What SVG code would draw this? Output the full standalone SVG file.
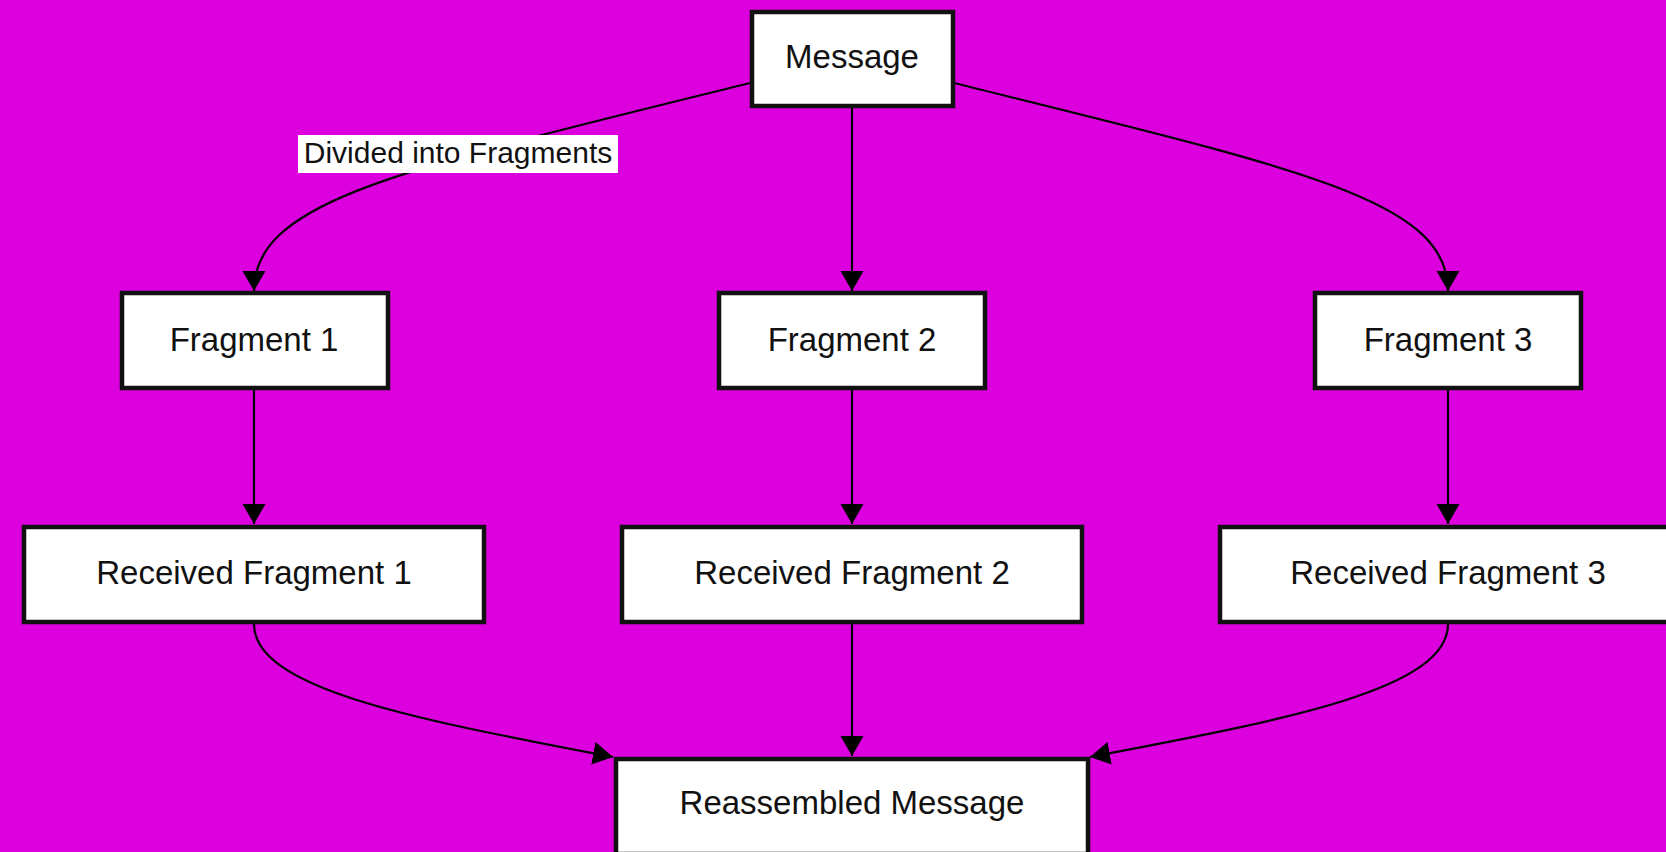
<svg xmlns="http://www.w3.org/2000/svg" width="1666" height="852" viewBox="0 0 1666 852">
  <style>
    .box { fill: #ffffff; stroke: #111111; stroke-width: 4.5; }
    .lbl { font-family: "Liberation Sans", Arial, sans-serif; font-size: 33px; fill: #111111; text-anchor: middle; }
    .edge { fill: none; stroke: #000000; stroke-width: 2.2; marker-end: url(#arrow); }
    .elbl-bg { fill: #ffffff; }
    .elbl { font-family: "Liberation Sans", Arial, sans-serif; font-size: 30px; fill: #111111; text-anchor: middle; }
  </style>
  <defs>
    <marker id="arrow" markerUnits="userSpaceOnUse" markerWidth="22" markerHeight="24" refX="20" refY="11.5" orient="auto">
      <path d="M0,0 L20,11.5 L0,23 z" fill="#000000"/>
    </marker>
  </defs>

  <rect width="1666" height="852" fill="#dc00de"/>

  <g id="connectors">
    <path class="edge" d="M750 83 C400 170, 254 200, 254 291"/>
    <path class="edge" d="M852 107 L852 291"/>
    <path class="edge" d="M954 83 C1304 170, 1448 200, 1448 291"/>
    <path class="edge" d="M254 390 L254 524"/>
    <path class="edge" d="M852 390 L852 524"/>
    <path class="edge" d="M1448 390 L1448 524"/>
    <path class="edge" d="M254 624 C254 690, 420 720, 613 757"/>
    <path class="edge" d="M852 624 L852 756"/>
    <path class="edge" d="M1448 624 C1448 690, 1284 720, 1090 757"/>
    <g id="edge-label">
      <rect class="elbl-bg" x="298" y="135" width="320" height="38"/>
      <text class="elbl" x="458" y="163">Divided into Fragments</text>
    </g>
  </g>

  <g id="message">
    <rect class="box" x="752" y="12" width="201" height="94"/>
    <text class="lbl" x="852" y="68">Message</text>
  </g>
  <g id="fragment-1">
    <rect class="box" x="122" y="293" width="266" height="95"/>
    <text class="lbl" x="254" y="351">Fragment 1</text>
  </g>
  <g id="fragment-2">
    <rect class="box" x="719" y="293" width="266" height="95"/>
    <text class="lbl" x="852" y="351">Fragment 2</text>
  </g>
  <g id="fragment-3">
    <rect class="box" x="1315" y="293" width="266" height="95"/>
    <text class="lbl" x="1448" y="351">Fragment 3</text>
  </g>
  <g id="received-1">
    <rect class="box" x="24" y="527" width="460" height="95"/>
    <text class="lbl" x="254" y="584">Received Fragment 1</text>
  </g>
  <g id="received-2">
    <rect class="box" x="622" y="527" width="460" height="95"/>
    <text class="lbl" x="852" y="584">Received Fragment 2</text>
  </g>
  <g id="received-3">
    <rect class="box" x="1220" y="527" width="460" height="95"/>
    <text class="lbl" x="1448" y="584">Received Fragment 3</text>
  </g>
  <g id="reassembled">
    <rect class="box" x="616" y="759" width="472" height="95"/>
    <text class="lbl" x="852" y="814">Reassembled Message</text>
  </g>
</svg>
